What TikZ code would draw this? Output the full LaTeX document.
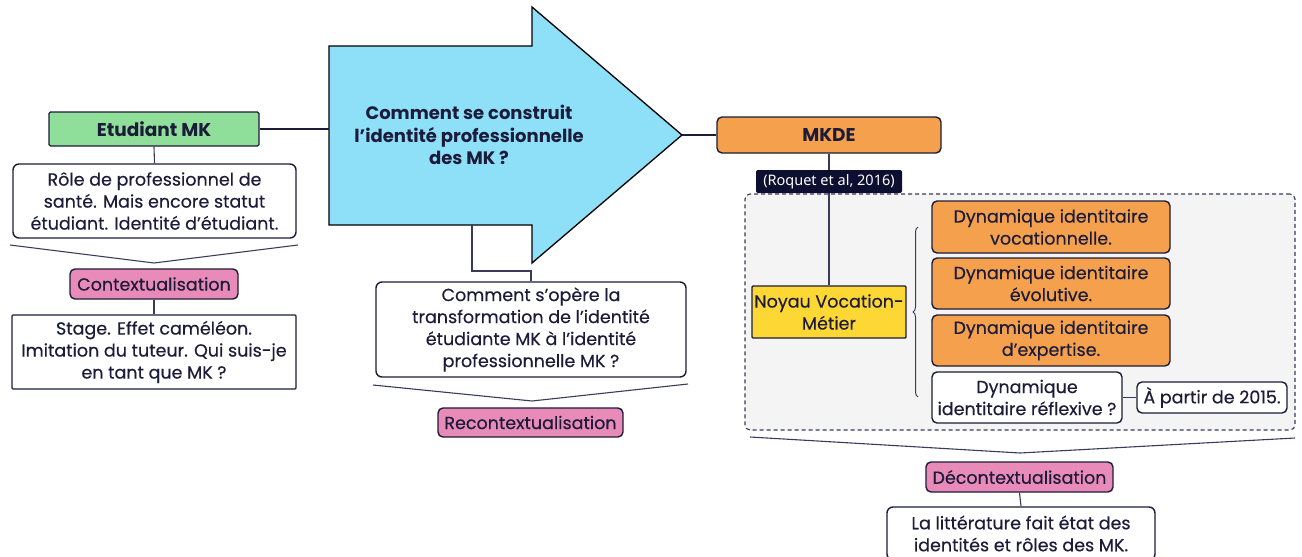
\documentclass[tikz,border=0pt]{standalone}
\usepackage{fontspec}
\setmainfont{Poppins}[UprightFeatures={FakeBold=0.35}]
\newfontfamily\refont{Noto Sans}
\usetikzlibrary{decorations.pathreplacing}
\definecolor{ink}{HTML}{1C1C3A}
\definecolor{wire}{HTML}{3A3A5C}
\definecolor{greenbox}{HTML}{8FDE99}
\definecolor{bluearrow}{HTML}{8EDFF8}
\definecolor{orangebox}{HTML}{F4A04D}
\definecolor{pinkbox}{HTML}{E98BB8}
\definecolor{yellowbox}{HTML}{FDD835}
\definecolor{panel}{HTML}{F4F4F4}
\definecolor{tagbg}{HTML}{0C0F30}
\tikzset{
  base/.style={draw=ink, line width=1.4pt, text=ink, align=center, inner sep=2pt,
    font=\fontsize{17.5}{22}\selectfont},
  whitebox/.style={base, fill=white, rounded corners=6pt},
  squarebox/.style={base, fill=white, rounded corners=1pt},
  pinkstep/.style={base, fill=pinkbox, rounded corners=5pt},
  orangestep/.style={base, fill=orangebox, rounded corners=5pt},
  thinwire/.style={draw=wire, line width=1.1pt},
  thickwire/.style={draw=ink, line width=2.6pt},
  headfont/.style={font=\fontsize{18.5}{22}\selectfont\bfseries},
}
\begin{document}
\begin{tikzpicture}[x=1pt,y=-1pt]
\useasboundingbox (0,0) rectangle (1302,557);

% ---------- left column ----------
\node[base, headfont, fill=greenbox, rounded corners=1.5pt, minimum width=210pt, minimum height=34pt]
  (etu) at (154,129) {Etudiant MK};
\node[whitebox, minimum width=283pt, minimum height=74pt] (role) at (154.5,201)
  {Rôle de professionnel de\\santé. Mais encore statut\\étudiant. Identité d’étudiant.};
\node[pinkstep, minimum width=168pt, minimum height=30pt] (ctx) at (154,284) {Contextualisation};
\node[squarebox, minimum width=284pt, minimum height=74pt] (stage) at (154,352)
  {Stage. Effet caméléon.\\Imitation du tuteur. Qui suis-je\\en tant que MK ?};
\coordinate (chA1) at (10,245);
\coordinate (chA2) at (154,263);
\coordinate (chA3) at (298,245);
\draw[thinwire] (chA1) -- (chA2) -- (chA3);
\draw[thinwire] (etu.south) -- (role.north);
\draw[thinwire] (ctx.south) -- (stage.north);

% ---------- central arrow ----------
\draw[draw=black, line width=1.3pt, fill=bluearrow, line join=miter]
  (329,46) -- (532,46) -- (532,7) -- (682,135) -- (532,263) -- (532,225) -- (329,225) -- cycle;
\coordinate (arrL) at (329,129);
\coordinate (arrT) at (682,135);
\coordinate (arrB) at (472,225);
\node[text=ink, align=center, font=\fontsize{18}{22.5}\selectfont\bfseries] (q) at (469,135)
  {Comment se construit\\l’identité professionnelle\\des MK ?};
\node[whitebox, minimum width=310pt, minimum height=95pt] (op) at (531,329.5)
  {Comment s’opère la\\transformation de l’identité\\étudiante MK à l’identité\\professionnelle MK ?};
\coordinate (chB1) at (373,385);
\coordinate (chB2) at (532,401);
\coordinate (chB3) at (688,384);
\draw[thinwire] (chB1) -- (chB2) -- (chB3);
\node[pinkstep, minimum width=185pt, minimum height=29pt] (rectx) at (530.5,422.5) {Recontextualisation};
\draw[thinwire] (arrB) -- (472,271) -| (op.north);
\draw[thickwire] (etu.east) -- (arrL);

% ---------- right column ----------
\node[orangestep, headfont, minimum width=224pt, minimum height=36pt] (mkde) at (829,135) {MKDE};
\draw[thickwire] (arrT) -- (mkde.west);
\node[draw=wire, line width=1.1pt, dash pattern=on 4pt off 3pt, fill=panel, rounded corners=5pt,
  minimum width=550pt, minimum height=236pt] (panel) at (1020,312) {};
\node[base, fill=yellowbox, rounded corners=1pt, minimum width=154pt, minimum height=52pt] (noyau)
  at (829,312) {Noyau Vocation-\\Métier};
\draw[thinwire] (mkde.south) -- (noyau.north);
\node[fill=tagbg, text=white, rounded corners=2pt, minimum width=146pt, minimum height=23pt,
  inner sep=1pt, font=\refont\fontsize{14.5}{16}\selectfont] (ref) at (829,181.5) {(Roquet et al, 2016)};
\node[orangestep, minimum width=238pt, minimum height=52pt] (dv) at (1051,227)
  {Dynamique identitaire\\vocationnelle.};
\node[orangestep, minimum width=238pt, minimum height=51pt] (de) at (1051,283.5)
  {Dynamique identitaire\\évolutive.};
\node[orangestep, minimum width=238pt, minimum height=51pt] (dx) at (1051,340.5)
  {Dynamique identitaire\\d’expertise.};
\node[whitebox, rounded corners=5pt, minimum width=190pt, minimum height=51pt] (dr) at (1027,397.5)
  {Dynamique\\identitaire réflexive ?};
\node[whitebox, rounded corners=5pt, minimum width=150pt, minimum height=31pt, inner sep=1pt] (since) at (1212,397.5)
  {À partir de 2015.};
\draw[thinwire] (dr.east) -- (since.west);
\coordinate (brB) at (918,397);
\coordinate (brT) at (918,227);
\draw[draw=wire, line width=1pt, decorate, decoration={brace, amplitude=5pt}] (brB) -- (brT);
\coordinate (chC1) at (750,437);
\coordinate (chC2) at (1020,453);
\coordinate (chC3) at (1295,438);
\draw[thinwire] (chC1) -- (chC2) -- (chC3);
\node[pinkstep, minimum width=187pt, minimum height=30pt] (dctx) at (1019.5,477) {Décontextualisation};
\node[whitebox, minimum width=268pt, minimum height=53pt] (lit) at (1021,533.5)
  {La littérature fait état des\\identités et rôles des MK.};
\draw[thinwire] (dctx.south) -- (lit.north);
\end{tikzpicture}
\end{document}
